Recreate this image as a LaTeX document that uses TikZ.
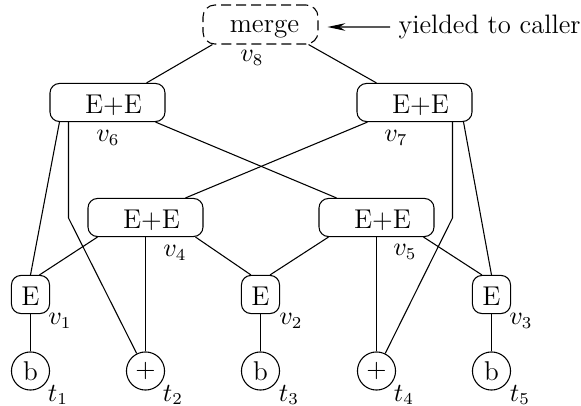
\documentclass[tikz,border=0pt]{standalone}
\usetikzlibrary{calc,arrows.meta}
\begin{document}
\begin{tikzpicture}[x=0.42pt,y=-0.42pt,line width=0.45pt,
  every node/.style={font=\fontsize{11.4}{14}\selectfont},
  eebox/.style={draw,rounded corners=4pt,minimum width=48.3pt,minimum height=16pt,inner sep=0pt,text height=9pt,text depth=0pt},
  ebox/.style={draw,rounded corners=4pt,minimum width=16pt,minimum height=16pt,inner sep=0pt,text height=9.6pt,text depth=0pt},
  mbox/.style={draw,dash pattern=on 4.2pt off 2.1pt,rounded corners=5pt,minimum width=48.3pt,minimum height=16.4pt,inner sep=0pt,text height=6.5pt,text depth=0pt},
  tcirc/.style={draw,circle,minimum size=16pt,inner sep=0pt},
  lbl/.style={inner sep=0pt,font=\fontsize{10.5}{12}\selectfont}]
\useasboundingbox (0,0) rectangle (581,406);
% nodes
\node[mbox] (m) at (260.5,24.5) {\hspace*{3.4pt}merge};
\node[inner sep=0pt,anchor=west,font=\fontsize{11.2}{14}\selectfont] (yc) at (398,27) {yielded to caller};
\node[eebox] (v6) at (107.5,102.5) {\hspace*{5pt}E+E};
\node[eebox] (v7) at (414.5,102.5) {\hspace*{5pt}E+E};
\node[eebox] (v4) at (145.5,217.5) {\hspace*{5pt}E+E};
\node[eebox] (v5) at (376.5,217.5) {\hspace*{5pt}E+E};
\node[ebox] (v1) at (30.5,294.5) {E};
\node[ebox] (v2) at (260.5,294.5) {E};
\node[ebox] (v3) at (491.5,294.5) {E};
\node[tcirc] (t1) at (30.5,371) {b};
\node[tcirc] (t2) at (145.5,371) {$+$};
\node[tcirc] (t3) at (260.5,371) {b};
\node[tcirc] (t4) at (376.5,371) {$+$};
\node[tcirc] (t5) at (491.5,371) {b};
% labels
\node[lbl] (l8) at (252,58) {$v_8$};
\node[lbl] (l6) at (108,138) {$v_6$};
\node[lbl] (l7) at (396,138) {$v_7$};
\node[lbl] (l4) at (175,253) {$v_4$};
\node[lbl] (l5) at (405,252) {$v_5$};
\node[lbl] (l1) at (60,321) {$v_1$};
\node[lbl] (l2) at (291,321) {$v_2$};
\node[lbl] (l3) at (521,321) {$v_3$};
\node[lbl] (k1) at (58,395) {$t_1$};
\node[lbl] (k2) at (173,395) {$t_2$};
\node[lbl] (k3) at (289,395) {$t_3$};
\node[lbl] (k4) at (404,395) {$t_4$};
\node[lbl] (k5) at (520,395) {$t_5$};
\coordinate (b6) at (68.5,218);
\coordinate (b7) at (452.5,218);
% arrow
\draw[-{Stealth[length=7.5pt,width=3.2pt]}] (yc.west) ++(-8,0) coordinate (ys) (ys) -- ($(m.east)+(9,2.5)$);
% connectors
\draw ($(m.south west)+(10,0)$) -- ($(v6.north east)+(-19,0)$);
\draw ($(m.south east)+(-10,0)$) -- ($(v7.north west)+(20,0)$);
\draw ($(v6.south east)+(-10,0)$) -- ($(v5.north west)+(18,0)$);
\draw ($(v7.south west)+(11,0)$) -- ($(v4.north east)+(-18,0)$);
\draw ($(v6.south west)+(10,0)$) -- (v1.north);
\draw (b6 |- v6.south) -- (b6) -- (t2);
\draw (b7 |- v7.south) -- (b7) -- (t4);
\draw ($(v7.south east)+(-9,0)$) -- (v3.north);
\draw ($(v4.south west)+(10,0)$) -- ($(v1.north)+(9,0)$);
\draw (t2 |- v4.south) -- (t2);
\draw ($(v4.south east)+(-8,0)$) -- ($(v2.north west)+(10,0)$);
\draw ($(v5.south west)+(10,0)$) -- ($(v2.north east)+(-10,0)$);
\draw (t4 |- v5.south) -- (t4);
\draw ($(v5.south east)+(-11,0)$) -- ($(v3.north west)+(10,0)$);
\draw (v1) -- (t1);
\draw (v2) -- (t3);
\draw (v3) -- (t5);
\end{tikzpicture}
\end{document}
